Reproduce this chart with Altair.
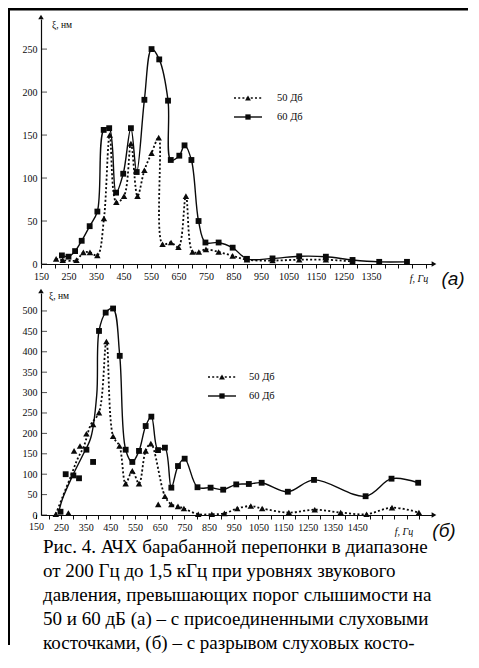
import altair as alt
import pandas as pd

# ---------------- Panel (a): with ossicles ----------------
a60_f = [226, 250, 274, 298, 327, 355, 378, 398, 423, 449, 477, 498, 526, 552, 580, 612, 622,
         653, 672, 697, 723, 748, 796, 847, 899, 992, 1089, 1186, 1283, 1380, 1481]
a60_v = [10, 8.5, 15, 27, 44, 61, 156, 158, 83, 105, 158, 107, 191, 250, 238, 190, 121,
         126, 138, 121, 50, 25, 25, 19, 6, 6.5, 9, 8.5, 4.7, 2.5, 2.5]

a50_f = [205, 229, 279, 304, 328, 355, 379, 400, 424, 452, 477, 501, 526, 552, 578, 592, 623,
         650, 677, 701, 724, 750, 796, 847, 899, 992, 1089, 1186, 1283]
a50_v = [6, 4.5, 4.5, 13.5, 13.5, 10, 53, 150, 72, 79, 140, 79, 109, 129, 147, 23, 25,
         19.5, 79, 14, 14, 17, 14, 9.5, 5, 4, 5, 5, 3]

# ---------------- Panel (б): ossicular chain broken ----------------
b60_f = [248, 269, 300, 323, 353, 380, 404, 431, 461, 488, 512, 539, 566, 593, 616, 643, 671,
         697, 724, 751, 803, 856, 907, 960, 1011, 1063, 1169, 1275, 1484, 1589, 1697]
b60_v = [8, 100, 97, 90, 160, 130, 451, 496, 506, 390, 160, 130, 157, 218, 241, 159, 165,
         67, 120, 138, 68, 67, 62, 75, 76, 79, 57, 86, 46, 89, 79]
# smoothed curve drawn through the 60 dB points
b60_line_f = [240, 255, 296, 336, 371, 395, 404, 431, 461, 488, 512, 539, 566, 593, 616, 643, 671,
              697, 724, 751, 803, 856, 907, 960, 1011, 1063, 1169, 1275, 1484, 1589, 1697]
b60_line_v = [5, 38, 95, 144, 190, 296, 451, 496, 506, 390, 160, 130, 157, 218, 241, 159, 165,
              67, 120, 138, 68, 67, 62, 75, 76, 79, 57, 86, 46, 89, 79]

b50_f = [229, 280, 303, 327, 353, 380, 404, 434, 461, 487, 512, 539, 566, 593, 614, 644, 671,
         697, 724, 748, 806, 861, 912, 964, 1019, 1065, 1173, 1278, 1383, 1488, 1591, 1700]
b50_v = [2, 5, 157, 169, 199, 222, 251, 425, 193, 169, 77, 108, 77, 157, 175, 26, 46,
         26, 21, 16, 2, 2, 4, 16, 22, 16, 6, 13, 6, 2, 18, 6]
b50_line_f = [229, 255, 290, 316, 343, 371, 404, 434, 461, 487, 512, 539, 566, 593, 614, 671,
              697, 724, 748, 806, 861, 912, 964, 1019, 1065, 1173, 1278, 1383, 1488, 1591, 1700]
b50_line_v = [2, 42, 95, 136, 169, 222, 251, 425, 193, 169, 77, 108, 77, 157, 175, 46,
              26, 21, 16, 2, 2, 4, 16, 22, 16, 6, 13, 6, 2, 18, 6]

# ---------------- Axis ticks / labels ----------------
a_xticks = list(range(150, 1551, 50))
a_xlabel_max = 1350
a_yticks = [0, 50, 100, 150, 200, 250]

b_xticks = list(range(200, 1701, 50))
b_xlabel_max = 1450
b_first_label = "150"
b_yticks = [0, 50, 100, 150, 200, 250, 300, 350, 400, 450, 500]

legend_labels = ["50 Дб", "60 Дб"]
y_title = "ξ, нм"
x_title = "f, Гц"

caption = ("Рис. 4. АЧХ барабанной перепонки в диапазоне\n"
           "от 200 Гц до 1,5 кГц при уровнях звукового\n"
           "давления, превышающих порог слышимости на\n"
           "50 и 60 дБ (а) – с присоединенными слуховыми\n"
           "косточками, (б) – с разрывом слуховых косто-")

BLACK = "#0a0a0a"
SERIF = "Liberation Serif"
one = pd.DataFrame({"k": [0]})


def panel(W, H, xdom, ydom, xticks, xlab_max, yticks, m60, m50, l60, l50,
          leg, ylab, flab, tag, tagpos, extra=()):
    xs = alt.Scale(domain=xdom, nice=False, zero=False)
    ys = alt.Scale(domain=ydom, nice=False)
    xax = alt.Axis(values=xticks, format="d", title=None, grid=False,
                   labelExpr=f"((datum.value - 150) % 100 == 0 && datum.value <= {xlab_max}) ? datum.label : ''",
                   domainColor=BLACK, domainWidth=1.2, tickColor=BLACK, tickSize=4,
                   labelFont=SERIF, labelFontSize=10, labelColor=BLACK, labelPadding=3,
                   labelOverlap=False, labelFlush=False)
    yax = alt.Axis(values=yticks, format="d", title=None, grid=False,
                   domainColor=BLACK, domainWidth=1.2, tickSize=0,
                   labelFont=SERIF, labelFontSize=10, labelColor=BLACK, labelPadding=4)
    X = alt.X("f:Q", scale=xs, axis=xax)
    Y = alt.Y("v:Q", scale=ys, axis=yax)

    def d(f, v):
        return pd.DataFrame({"f": f, "v": v})

    layers = [
        alt.Chart(d(*l50)).mark_line(interpolate="catmull-rom", color=BLACK, strokeWidth=1.8,
                                     strokeDash=[2, 2.2], clip=True).encode(x=X, y=Y),
        alt.Chart(d(*l60)).mark_line(interpolate="catmull-rom", color=BLACK, strokeWidth=1.4,
                                     clip=True).encode(x=X, y=Y),
        alt.Chart(d(*m50)).mark_point(shape="triangle-up", filled=True, size=42, color=BLACK,
                                      opacity=1).encode(x=X, y=Y),
        alt.Chart(d(*m60)).mark_point(shape="square", filled=True, size=34, color=BLACK,
                                      opacity=1).encode(x=X, y=Y),
        # inward y ticks
        alt.Chart(pd.DataFrame({"v": yticks})).mark_tick(orient="horizontal", size=6, thickness=1,
                                                         color=BLACK).encode(y=Y, x=alt.value(3)),
    ]
    # axis arrows
    layers.append(alt.Chart(one).mark_point(shape="triangle-right", filled=True, size=30, color=BLACK,
                                            opacity=1).encode(x=alt.value(W + 2), y=alt.value(H)))
    layers.append(alt.Chart(one).mark_point(shape="triangle-up", filled=True, size=30, color=BLACK,
                                            opacity=1).encode(x=alt.value(0), y=alt.value(-2)))
    # legend
    lx1, lx2, ly1, ly2, tx = leg
    layers += [
        alt.Chart(one).mark_rule(color=BLACK, strokeWidth=1.6, strokeDash=[2, 2.2]).encode(
            x=alt.value(lx1), x2=alt.value(lx2), y=alt.value(ly1)),
        alt.Chart(one).mark_rule(color=BLACK, strokeWidth=1.4).encode(
            x=alt.value(lx1), x2=alt.value(lx2), y=alt.value(ly2)),
        alt.Chart(one).mark_point(shape="triangle-up", filled=True, size=34, color=BLACK, opacity=1).encode(
            x=alt.value((lx1 + lx2) / 2), y=alt.value(ly1)),
        alt.Chart(one).mark_point(shape="square", filled=True, size=28, color=BLACK, opacity=1).encode(
            x=alt.value((lx1 + lx2) / 2), y=alt.value(ly2)),
        alt.Chart(one).mark_text(text=legend_labels[0], align="left", baseline="middle", font=SERIF,
                                 fontSize=10.5, color=BLACK).encode(x=alt.value(tx), y=alt.value(ly1)),
        alt.Chart(one).mark_text(text=legend_labels[1], align="left", baseline="middle", font=SERIF,
                                 fontSize=10.5, color=BLACK).encode(x=alt.value(tx), y=alt.value(ly2)),
    ]
    # axis titles
    layers.append(alt.Chart(one).mark_text(text=y_title, align="left", baseline="middle", font=SERIF,
                                           fontSize=9.5, color=BLACK).encode(x=alt.value(ylab[0]), y=alt.value(ylab[1])))
    layers.append(alt.Chart(one).mark_text(text=x_title, align="center", baseline="middle", font=SERIF,
                                           fontSize=10, fontStyle="italic", color=BLACK).encode(
        x=alt.value(flab[0]), y=alt.value(flab[1])))
    layers.append(alt.Chart(one).mark_text(text=tag, align="center", baseline="middle", font="Liberation Sans",
                                           fontSize=19, fontStyle="italic", color=BLACK).encode(
        x=alt.value(tagpos[0]), y=alt.value(tagpos[1])))
    layers += list(extra)
    return alt.layer(*layers).properties(width=W, height=H)


WA, HA = 391, 245
WB, HB = 391, 222
TOP_B = HA + 29  # offset of panel (б) below panel (a)

cap = alt.Chart(one).mark_text(text=caption, lineBreak="\n", lineHeight=24, align="left", baseline="top",
                               font=SERIF, fontSize=19, color="#000000").encode(x=alt.value(2), y=alt.value(HB + 23))

# first x label of panel (б) sits just left of the y axis
first_lab = alt.Chart(one).mark_text(text=b_first_label, align="center", baseline="top", font=SERIF,
                                     fontSize=10, color=BLACK).encode(x=alt.value(-4.5), y=alt.value(HB + 7))
first_tick = alt.Chart(one).mark_rule(color=BLACK, strokeWidth=1).encode(
    x=alt.value(-4.5), y=alt.value(HB), y2=alt.value(HB + 4))

# scan frame lines (top and left edges of the scanned page), drawn from panel (б)
frame_b = [
    alt.Chart(one).mark_rect(color="#000000", opacity=1).encode(
        x=alt.value(-33), x2=alt.value(427), y=alt.value(-TOP_B - 11), y2=alt.value(-TOP_B - 8.5)),
    alt.Chart(one).mark_rect(color="#000000", opacity=1).encode(
        x=alt.value(-33), x2=alt.value(-31), y=alt.value(-TOP_B - 11), y2=alt.value(HB + 130)),
]

pa = panel(WA, HA, [150, 1572], [0, 285], a_xticks, a_xlabel_max, a_yticks,
           (a60_f, a60_v), (a50_f, a50_v), (a60_f, a60_v), (a50_f, a50_v),
           leg=(193, 221, 79, 98, 236), ylab=(11, 6), flab=(378, HA + 15), tag="(a)",
           tagpos=(412, HA + 15))

pb = panel(WB, HB, [169, 1753], [0, 544], b_xticks, b_xlabel_max, b_yticks,
           (b60_f, b60_v), (b50_f, b50_v), (b60_line_f, b60_line_v), (b50_line_f, b50_line_v),
           leg=(167, 195, 84, 103, 208), ylab=(8, 3), flab=(363, HB + 17), tag="(б)",
           tagpos=(403, HB + 16), extra=[cap, first_lab, first_tick] + frame_b)

chart = alt.vconcat(pa, pb, spacing=29, bounds="flush").configure_view(stroke=None).properties(
    padding=0, background="white")

chart.save("out.html", embed_options={"renderer": "svg", "actions": False})
